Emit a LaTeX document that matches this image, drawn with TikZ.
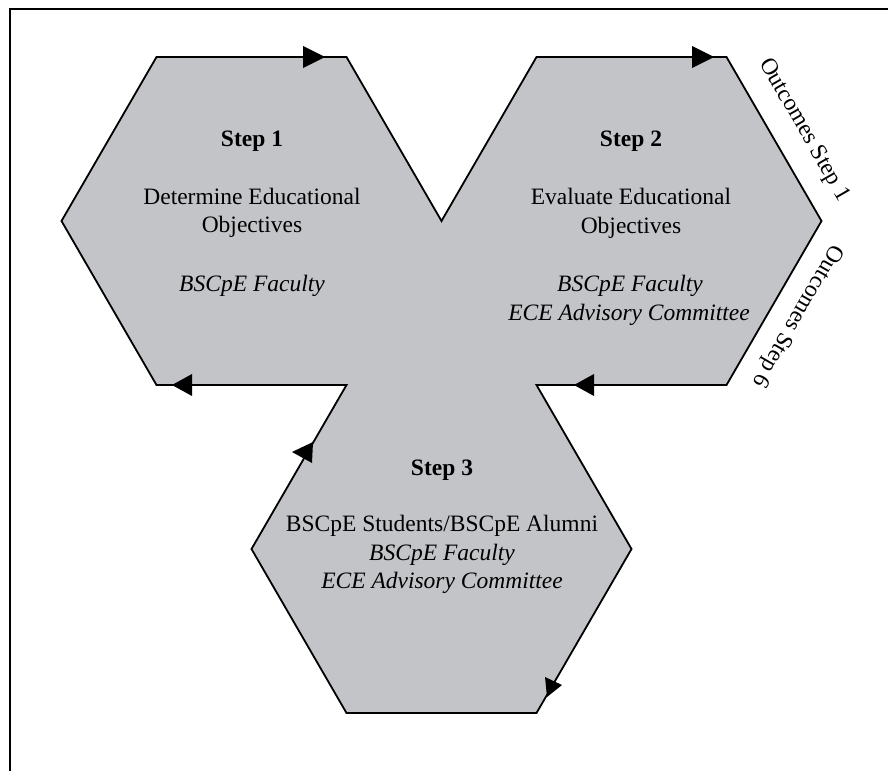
\documentclass[tikz,border=0pt]{standalone}
\usepackage{fontspec}
\setmainfont{Liberation Serif}
\definecolor{hexfill}{RGB}{194,196,200}
\begin{document}
\begin{tikzpicture}[x=1pt,y=-1pt,
  txt/.style={font=\fontsize{23.5}{28.5}\selectfont, inner sep=0pt, anchor=base},
  boldtxt/.style={txt, font=\fontsize{23.5}{28.5}\selectfont\bfseries},
  itxt/.style={txt, font=\fontsize{23.5}{28.5}\selectfont\itshape},
  arrowtri/.style={fill=black, draw=none}]
\useasboundingbox (0,0) rectangle (888,771);
\fill[white] (0,0) rectangle (888,771);
% frame
\draw[line width=2pt] (10,771) -- (10,9) -- (888,9);
% three hexagons as one outline
\filldraw[fill=hexfill, draw=black, line width=1.8pt, line join=miter]
  (61.5,221) -- (156.5,57) -- (346.5,57) -- (441.5,221) -- (536.5,57)
  -- (726.5,57) -- (821.5,221) -- (726.5,385) -- (536.5,385)
  -- (631.5,549) -- (536.5,713) -- (346.5,713) -- (251.5,549)
  -- (346.5,385) -- (156.5,385) -- cycle;
% arrowheads
\fill[arrowtri] (303,46) -- (325,57) -- (303,68) -- cycle;
\fill[arrowtri] (692,46) -- (714,57) -- (692,68) -- cycle;
\fill[arrowtri] (594,374) -- (574,385) -- (594,396) -- cycle;
\fill[arrowtri] (192,374) -- (172,385) -- (192,396) -- cycle;
\fill[arrowtri] (292,452) -- (313,442) -- (312,463) -- cycle;
\fill[arrowtri] (545,677) -- (562,685) -- (547,697) -- cycle;
% Step 1
\node[boldtxt] (s1) at (252,146.5) {Step 1};
\node[txt] (d1a) at (252,204) {Determine Educational};
\node[txt] (d1b) at (252,232.5) {Objectives};
\node[itxt] (f1) at (252,291.5) {BSCpE Faculty};
% Step 2
\node[boldtxt] (s2) at (631,146.5) {Step 2};
\node[txt] (d2a) at (631,204) {Evaluate Educational};
\node[txt] (d2b) at (631,233) {Objectives};
\node[itxt] (f2) at (630,291.5) {BSCpE Faculty};
\node[itxt] (c2) at (629,320) {ECE Advisory Committee};
% Step 3
\node[boldtxt] (s3) at (442,475) {Step 3};
\node[txt] (p3) at (442,531.5) {BSCpE Students/BSCpE Alumni};
\node[itxt] (f3) at (442,560) {BSCpE Faculty};
\node[itxt] (c3) at (442,588.5) {ECE Advisory Committee};
% outcome labels
\node[txt, anchor=center, rotate=-60] (o1) at (804,130) {Outcomes Step 1};
\node[txt, anchor=center, rotate=-120] (o6) at (797,316) {Outcomes Step 6};
\end{tikzpicture}
\end{document}
